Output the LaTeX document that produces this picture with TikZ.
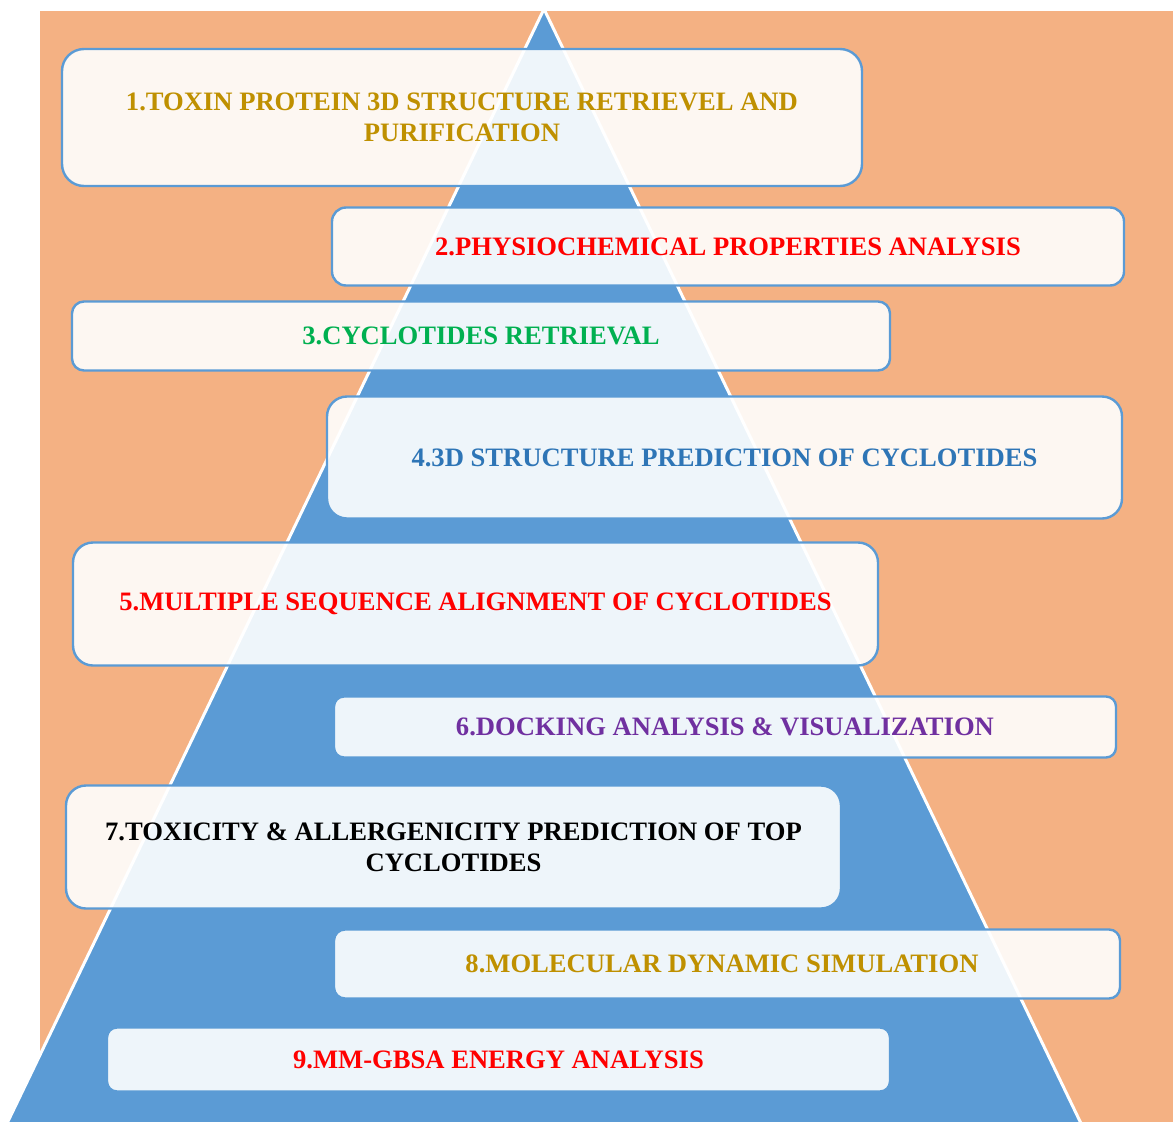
\documentclass[tikz,border=0pt]{standalone}
\usepackage{fontspec}
\setmainfont{Liberation Serif}
\begin{document}
\definecolor{peach}{HTML}{F4B183}
\definecolor{pyrblue}{HTML}{5B9BD5}
\definecolor{goldtxt}{HTML}{BF9000}
\definecolor{greentxt}{HTML}{00B050}
\definecolor{bluetxt}{HTML}{2E75B6}
\definecolor{purpletxt}{HTML}{7030A0}
\begin{tikzpicture}[x=1pt,y=-1pt,
  stepbox/.style={draw=pyrblue, line width=2.4pt, fill=white, fill opacity=0.9,
    text opacity=1, inner sep=0pt, align=center,
    font=\bfseries\fontsize{26.6}{31}\selectfont},
  pyramid/.style={fill=pyrblue, draw=white, line width=3pt, line join=miter}]
  \useasboundingbox (0,0) rectangle (1173,1122);
  \begin{scope}
    \clip (0,0) rectangle (1173,1122);
    % backdrop
    \fill[peach] (40,11) rectangle (1173,1130);
    % pyramid
    \draw[pyramid] (544,9) -- (1089,1140) -- (-1,1140) -- cycle;
  \end{scope}
  % the nine steps
  \node[stepbox, minimum width=800pt, minimum height=137pt, rounded corners=22pt,
    text=goldtxt] (s1) at (462,117.5)
    {1.TOXIN PROTEIN 3D STRUCTURE RETRIEVEL AND\\PURIFICATION};
  \node[stepbox, minimum width=792pt, minimum height=78pt, rounded corners=14pt,
    text=red] (s2) at (728,246.5)
    {2.PHYSIOCHEMICAL PROPERTIES ANALYSIS};
  \node[stepbox, minimum width=818pt, minimum height=69pt, rounded corners=12pt,
    text=greentxt] (s3) at (481,336)
    {3.CYCLOTIDES RETRIEVAL};
  \node[stepbox, minimum width=795pt, minimum height=122pt, rounded corners=20pt,
    text=bluetxt] (s4) at (724.5,457.5)
    {4.3D STRUCTURE PREDICTION OF CYCLOTIDES};
  \node[stepbox, minimum width=805pt, minimum height=123pt, rounded corners=20pt,
    text=red] (s5) at (475.5,604)
    {5.MULTIPLE SEQUENCE ALIGNMENT OF CYCLOTIDES};
  \node[stepbox, minimum width=782pt, minimum height=61pt, rounded corners=10pt,
    text=purpletxt] (s6) at (725,727)
    {6.DOCKING ANALYSIS \& VISUALIZATION};
  \node[stepbox, minimum width=775pt, minimum height=123pt, rounded corners=20pt,
    text=black] (s7) at (453.5,847)
    {7.TOXICITY \& ALLERGENICITY PREDICTION OF TOP\\CYCLOTIDES};
  \node[stepbox, minimum width=786pt, minimum height=69pt, rounded corners=11pt,
    text=goldtxt] (s8) at (727,964)
    {8.MOLECULAR DYNAMIC SIMULATION\hspace*{10pt}};
  \node[stepbox, minimum width=783pt, minimum height=64pt, rounded corners=10pt,
    text=red] (s9) at (498.5,1059.5)
    {9.MM-GBSA ENERGY ANALYSIS};
\end{tikzpicture}
\end{document}
